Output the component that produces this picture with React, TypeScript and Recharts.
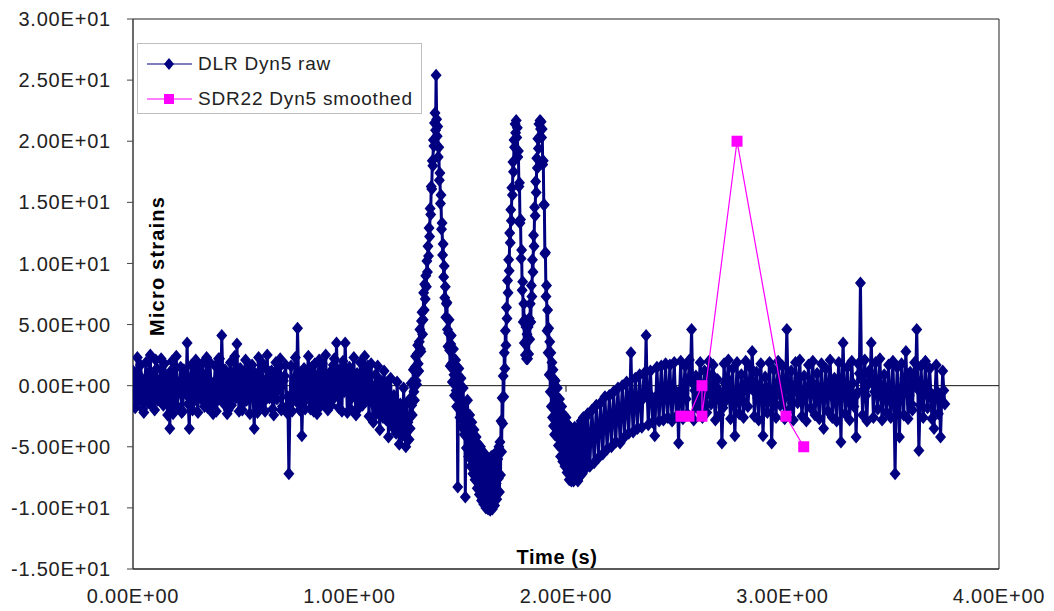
import React from 'react';
import { ScatterChart, Scatter, XAxis, YAxis, ReferenceLine, ReferenceArea, Legend, Label, Curve } from 'recharts';

// ---- axis ticks ----
const xTicks = [0, 1, 2, 3, 4];
const yTicks = [-15, -10, -5, 0, 5, 10, 15, 20, 25, 30];

// ---- DLR Dyn5 raw (time in s, micro strains), segment by segment ----
const seg1Start = 0.0;
const seg1Step = 0.005;
const seg1Values = [
  1.2, -0.5, -1.8, 0.9, 2.3, -1.3, -0.9, 1.7, 0.6, -1.9, -2.2, 0.4, 1.9, -0.8, -1.4, 1.1, 2.5, -1.6, -0.3, 0.8,
  -2.0, 2.1, 1.4, -1.2, -0.8, 0.5, 2.2, -0.4, -1.6, 1.8, 0.9, -1.0, -2.4, 0.7, -3.5, 1.2, 2.0, -2.3, -1.1, 1.5,
  2.4, -1.7, -0.6, 0.3, 1.5, -2.2, -2.1, 1.3, 0.8, -0.7, 3.5, -1.5, -3.5, 0.6, 1.7, -2.0, -1.3, 1.0, 2.1, -0.9,
  -2.2, 1.6, 0.4, -1.1, 1.8, -0.5, -1.7, 0.9, 2.3, -1.8, -0.9, 1.9, 0.3, -1.4, -2.3, 0.2, 1.6, -2.1, -1.2, 2.2,
  2.2, -0.8, 4.1, 0.6, -1.5, 1.3, 0.7, -2.3, -2.0, 0.9, 1.9, -1.6, -0.7, 1.1, 2.4, -1.0, 3.4, -0.2, -2.1, 1.4,
  1.3, -2.0, -1.4, 0.8, 2.1, -1.2, -0.5, 1.6, -2.3, 0.2, 1.7, -0.9, -3.5, 1.0, 0.9, -2.2, 2.3, -0.6, -1.8, 1.9,
  0.5, -1.3, -2.1, 1.4, 2.5, -0.3, -1.0, 0.6, 1.2, -1.9, -2.4, 0.8, 1.9, -1.1, -0.4, 1.5, 2.2, -2.0, -1.7, 0.4,
  0.8, 1.7, -2.2, -0.9, -7.2, -1.5, 1.6, -2.1, -1.1, 0.6, 2.3, -1.3, 4.7, 0.2, -2.0, 1.1, -4.1, -0.6, 1.4, -1.9,
  -0.8, 1.0, 2.4, -1.2, -1.9, 1.5, 0.6, -2.1, 1.8, -0.4, -2.3, 0.9, 2.1, -1.7, -0.6, 1.8, -1.5, 0.3, 2.5, -1.0,
  -2.0, 0.5, 1.1, -1.6, -1.2, 1.7, 2.2, -0.8, 3.5, 0.1, -1.8, 1.3, 0.4, -2.1, 2.0, -0.5, 3.5, 0.8, -2.2, 1.2,
  1.5, -1.9, -1.0, 0.9, 2.3, -0.7, -2.4, 1.0, 0.7, -1.8, 1.9, -0.6, -1.6, 1.2, 2.4, -1.3, -0.8, 1.6, -2.5, 0.2,
  1.8, -1.4, -3.0, -0.2, 0.9, -2.3, 1.6, -1.1, -3.6, 0.4, -0.5, -2.6, 1.2, -1.5, -2.8, 0.3, -4.2, -1.9, 0.6, -3.1,
  -3.4, -0.8, -1.2, -3.9, 0.3, -2.6, -4.8, -1.5, -2.2, -4.1, -0.2, -3.2, -5.0, -1.4, -3.0, -4.4,
];

const seg2Start = 1.28;
const seg2Step = 0.0025;
const seg2Values = [
  -3.5, -1.0, 0.2, -1.6, -2.4, 0.1, 1.3, -0.5, -1.2, 1.5, 2.4, 0.4,
  0.1, 2.6, 3.3, 1.8, 1.2, 3.6, 4.6, 3.0, 2.8, 5.3, 6.0, 4.2,
];

const seg3Start = 1.34;
const seg3Step = 0.0025;
const seg3Values = [
  5.4, 7.6, 6.2, 8.3, 7.1, 9.0, 8.1, 10.2, 9.3, 11.4,
  10.6, 12.9, 12.2, 14.5, 14.0, 16.3, 16.1, 18.4, 18.0, 20.1,
  19.6, 21.5, 22.3, 20.9, 25.4, 21.8, 20.4, 21.2, 18.7, 19.5,
  16.8, 17.4, 14.9, 15.6, 12.8, 13.3, 10.7, 11.6, 8.9, 9.8,
  7.2, 8.1, 5.6, 6.7,
];

const seg4Start = 1.45;
const seg4Step = 0.0025;
const seg4Values = [
  6.8, 4.6, 3.2, 4.3, 5.4, 2.9, 1.6, 3.4, 4.1, 1.8,
  0.3, 1.4, 3.0, 0.9, -0.8, 0.2, 2.1, -0.4, -1.7, -0.9,
  -8.3, -1.8, 1.4, -0.9, -2.6, -1.5, 0.6, -2.0, -3.4, -1.6,
  -0.2, -2.7, -4.0, -2.2, -9.1, -3.4, -5.1, -3.2, -1.2, -4.0,
  -5.8, -3.8, -2.4, -4.6, -6.6, -4.7, -3.0, -5.2, -7.2, -5.5,
  -3.6, -6.0, -7.7, -6.1, -4.2, -6.7, -8.4, -6.5, -4.8, -7.4,
  -8.9, -7.0, -5.0, -7.8, -9.4, -7.4, -5.4, -8.2, -9.7, -7.6,
  -5.6, -8.6, -10.0, -7.9, -5.9, -8.8, -10.1, -8.0, -6.0, -8.9,
  -10.2, -7.8, -5.8, -8.7, -10.1, -7.7, -5.7, -8.4, -9.8, -7.5,
  -5.5, -8.0, -9.3, -7.2, -6.0, -7.6,
];

const seg5Start = 1.69;
const seg5Step = 0.0025;
const seg5Values = [
  -5.0, -8.7, -4.6, -7.3, -2.9, -5.4, -1.0, -3.1, 0.8, -0.9,
  2.7, 1.4, 4.5, 3.3, 6.4, 5.5, 8.6, 7.6, 10.3, 9.4,
  12.5, 11.7, 14.4, 13.5, 16.2, 15.6, 18.3, 17.5, 20.1, 19.5,
  21.4, 20.7, 21.7, 20.3, 21.1, 18.7, 19.2, 16.3, 16.6, 13.3,
  13.6, 10.4, 11.1, 7.8, 8.5, 5.2, 6.7, 3.5, 5.4, 2.5,
  4.8, 2.2, 4.2, 2.2, 4.8, 2.6, 5.5, 3.8, 6.7, 5.2,
  8.2, 7.3, 10.3, 9.3, 12.3, 11.4, 14.6, 13.9, 16.7, 15.8,
  18.6, 17.8, 20.2, 19.4, 21.4, 20.3, 21.7, 21.0, 21.6, 20.3,
  21.0, 18.1, 18.4, 14.8, 14.8, 10.8, 10.9, 7.3, 8.2, 4.5,
  6.2, 2.7, 4.7, 0.9, 3.6, -0.5, 2.7, -1.7, 1.9, -2.6,
  1.3, -3.3, 0.5, -4.0,
];

const seg6Start = 1.95;
const seg6Step = 0.0025;
const seg6Values = [
  0.4, -2.0, -4.1, -1.8, -0.2, -3.0, -4.9, -2.7, -1.1, -3.6,
  -5.8, -3.9, -1.7, -4.2, -6.2, -4.0, -2.4, -4.8, -6.6, -4.4,
  -2.6, -5.2, -7.1, -5.0, -3.2, -5.6, -7.7, -5.3, -3.4, -6.0,
  -7.8, -5.4, -3.8, -5.9, -7.8, -5.7, -3.4, -6.1, -7.6, -5.3,
  -3.6, -5.9, -7.8, -5.5, -3.3, -5.6, -7.4, -5.1, -2.9, -5.3,
  -7.2, -4.9, -2.6, -5.0, -6.8, -4.6, -2.6, -4.8, -6.7, -4.4,
];

const seg7Start = 2.1;
const seg7Step = 0.005;
const seg7Values = [
  -2.3, -4.4, -6.6, -4.2, -2.0, -4.0, -6.3, -3.9, -1.6, -3.6, -5.9, -3.5, -1.4, -3.3, -5.6, -3.0, -0.9, -3.1, -5.2, -2.8,
  -0.8, -2.9, -5.0, -2.6, -0.5, -2.7, -4.6, -2.3, -0.2, -2.5, -4.7, -2.1, 0.0, -2.2, -4.2, -1.8, 0.3, -1.9, -3.9, -1.0,
  2.7, -1.5, -3.8, -1.6, 0.6, -1.4, -3.5, -1.2, 0.9, -1.3, -3.4, -0.9, 1.0, -0.8, 4.1, -0.6, -3.2, -1.0, 1.2, -0.9,
  -3.0, -1.6, -4.1, -1.0, 1.5, -0.7, -2.9, -0.6, 1.6, -1.1, -2.8, -0.4, 1.8, -0.9, -2.6, -0.3, 1.7, -1.0, -2.9, -0.2,
  1.9, -0.8, -2.5, -1.2, -4.7, -0.5, 2.0, -0.9, -2.7, 0.1, 1.6, -1.1, -2.3, 0.4, 2.1, 0.8, 4.6, 0.2, -2.8, -0.4,
  0.8, -1.4, -1.9, 0.3, 1.9, -0.9, -2.6, -0.2, 1.2, -1.6, -2.2, 0.5, 2.0, -0.7, -1.5, 0.9, 1.7, -1.3, -2.8, -0.1,
  0.5, -1.0, -2.4, -0.6, -4.7, -1.8, 1.8, 0.2, -1.2, 0.6, 2.1, -0.8, -2.7, -0.4, 1.4, -1.6, -4.1, -0.9, 1.9, -0.5,
  -2.3, -0.7, 0.9, -1.2, -2.6, 0.1, 2.0, 0.2, -1.7, -0.3, 1.5, 0.4, 2.8, 0.3, -2.5, -0.6, 1.1, -1.0, -2.8, 0.0,
  1.8, -0.9, -4.1, -1.3, 0.7, -0.8, -2.2, -0.2, 1.9, -0.6, -4.7, -1.5, 1.3, -0.9, -2.6, -0.1, 2.0, 0.4, -1.6, -0.5,
  1.6, -1.1, -2.7, 0.5, 4.6, 0.3, -2.0, -0.5, 1.2, -1.4, -2.8, -0.3, 1.9, 0.2, -1.4, 0.6, 2.1, -0.8, -2.5, -1.0,
  0.8, -0.6, -2.9, -0.4, 1.7, 0.0, -1.8, 0.3, 2.0, -0.7, -2.4, -0.9, 1.0, -1.2, -2.7, -0.2, 1.8, -0.5, -3.5, -0.8,
  1.4, -0.4, -2.1, 0.1, 2.1, -0.3, -2.6, -1.0, 0.6, -1.2, -2.9, 0.2, 1.9, -0.7, -4.6, 0.4, 3.5, -0.2, -2.3, -0.6,
  1.5, -1.3, -2.8, -0.5, 2.0, 0.2, -1.7, -0.9, -4.2, -0.6, 1.8, 1.0, 8.4, 0.5, -2.4, -0.3, 2.1, -0.8, -2.9, 0.1,
  1.2, 0.8, 3.5, 0.4, -2.6, -0.5, 1.9, -0.2, -1.9, 0.3, 2.2, -0.4, -2.8, -1.1, 0.9, -0.7, -2.2, -0.3, 1.7, -1.2,
  -2.6, -0.1, 2.0, -1.4, -7.2, -0.9, 1.5, -1.2, -4.2, -0.7, 1.8, -0.5, -2.4, 0.6, 2.8, -0.2, -2.7, -0.8, 1.1, -1.5,
  -2.0, 0.2, 1.9, 0.6, 4.6, -0.3, -5.3, -1.6, 1.6, -0.6, -2.6, -0.4, 2.0, 0.1, -1.8, -0.9, 1.4, -0.6, -2.7, -1.0,
  -3.5, -0.7, 1.7, -0.5, -2.3, -0.9, -4.2, -1.3, 1.2, -0.4, -1.5,
];

// ---- SDR22 Dyn5 smoothed ----
const smoothTimes = [2.531, 2.568, 2.628, 2.628, 2.79, 3.016, 3.098];
const smoothValues = [-2.5, -2.5, 0, -2.5, 20, -2.5, -5];

const rawSegments = [
  { start: seg1Start, step: seg1Step, values: seg1Values },
  { start: seg2Start, step: seg2Step, values: seg2Values },
  { start: seg3Start, step: seg3Step, values: seg3Values },
  { start: seg4Start, step: seg4Step, values: seg4Values },
  { start: seg5Start, step: seg5Step, values: seg5Values },
  { start: seg6Start, step: seg6Step, values: seg6Values },
  { start: seg7Start, step: seg7Step, values: seg7Values },
];

const rawData = rawSegments.flatMap((s) =>
  s.values.map((v, i) => ({ t: Number((s.start + i * s.step).toFixed(5)), v }))
);
const smoothData = smoothTimes.map((t, i) => ({ t, v: smoothValues[i] }));

const NAVY = '#000080';
const MAGENTA = '#FF00FF';
const FONT = '"Liberation Sans", Arial, sans-serif';

const fmtE = (n: number) => {
  const [m, e] = n.toExponential(2).split('e');
  const ex = parseInt(e, 10);
  return `${m}E${ex < 0 ? '-' : '+'}${String(Math.abs(ex)).padStart(2, '0')}`;
};

const Diamond = (props: any) => {
  const { cx, cy } = props;
  if (cx == null || cy == null) return null;
  return <path d={`M${cx},${cy - 6.5}L${cx + 5.5},${cy}L${cx},${cy + 6.5}L${cx - 5.5},${cy}Z`} fill={NAVY} />;
};

const Square = (props: any) => {
  const { cx, cy } = props;
  if (cx == null || cy == null) return null;
  return <rect x={cx - 5.5} y={cy - 5.5} width={11} height={11} fill={MAGENTA} />;
};

const rawLine = (p: any) => (
  <Curve points={p.points} type="linear" fill="none" stroke={NAVY} strokeWidth={3} strokeLinejoin="round" />
);
const smoothLine = (p: any) => (
  <Curve points={p.points} type="linear" fill="none" stroke={MAGENTA} strokeWidth={1.2} />
);

const YLabel = (props: any) => {
  const vb = props.viewBox || { x: 0, y: 0, width: 0, height: 0 };
  const x = vb.x + vb.width + 24;
  const y = vb.y + vb.height * 0.449;
  return (
    <text
      x={x}
      y={y}
      transform={`rotate(-90 ${x} ${y})`}
      textAnchor="middle"
      dominantBaseline="central"
      fontFamily={FONT}
      fontSize={20}
      fontWeight="bold"
      letterSpacing={1.2}
      fill="#000"
    >
      Micro strains
    </text>
  );
};

const legendItems = [
  { name: 'DLR Dyn5 raw', color: NAVY, marker: 'diamond' },
  { name: 'SDR22 Dyn5 smoothed', color: MAGENTA, marker: 'square' },
];

const LegendBox = () => (
  <div
    style={{
      border: '1px solid #bfbfbf',
      width: 285,
      height: 71,
      background: '#fff',
      boxSizing: 'border-box',
      paddingTop: 2,
      paddingLeft: 9,
      fontFamily: FONT,
    }}
  >
    {legendItems.map((it) => (
      <div key={it.name} style={{ display: 'flex', alignItems: 'center', height: 35 }}>
        <svg width={46} height={14} style={{ display: 'block' }}>
          <line x1={0} y1={7} x2={45} y2={7} stroke={it.color} strokeWidth={1.2} />
          {it.marker === 'diamond' ? (
            <path d="M22,1L27,7L22,13L17,7Z" fill={it.color} />
          ) : (
            <rect x={17} y={2} width={10} height={10} fill={it.color} />
          )}
        </svg>
        <span style={{ marginLeft: 5, fontSize: 19, letterSpacing: 0.8, color: '#222', whiteSpace: 'nowrap' }}>
          {it.name}
        </span>
      </div>
    ))}
  </div>
);

export default function App() {
  return (
    <div style={{ position: 'absolute', left: 0, top: 0, width: 1054, height: 611, background: '#fff' }}>
      <ScatterChart width={1054} height={611} margin={{ top: 19, right: 55, bottom: 12, left: 0 }}>
        <XAxis
          type="number"
          dataKey="t"
          domain={[0, 4]}
          ticks={xTicks}
          tickFormatter={fmtE}
          allowDataOverflow
          height={30}
          tickLine={false}
          tickSize={0}
          tickMargin={20}
          axisLine={{ stroke: '#222' }}
          tick={{ fill: '#222', fontSize: 20, fontFamily: FONT, letterSpacing: 0.8 }}
          label={{
            value: 'Time  (s)',
            position: 'top',
            offset: 5,
            dx: -9,
            fill: '#000',
            fontSize: 20,
            fontWeight: 'bold',
            fontFamily: FONT,
            letterSpacing: 0.6,
          }}
        />
        <YAxis
          type="number"
          dataKey="v"
          domain={[-15, 30]}
          ticks={yTicks}
          tickFormatter={fmtE}
          allowDataOverflow
          width={133}
          tickSize={6}
          tickMargin={16}
          tickLine={{ stroke: '#444' }}
          axisLine={{ stroke: '#444' }}
          tick={{ fill: '#222', fontSize: 20, fontFamily: FONT, letterSpacing: 0.8 }}
          label={<Label content={YLabel} />}
        />
        <ReferenceArea x1={0} x2={4} y1={-15} y2={30} fill="none" fillOpacity={0} stroke="#222" strokeWidth={1} />
        <ReferenceLine y={0} stroke="#111" strokeWidth={1} zIndex={50} />
        <ReferenceLine segment={[{ x: 1, y: 0 }, { x: 1, y: -0.5 }]} stroke="#111" zIndex={50} />
        <ReferenceLine segment={[{ x: 2, y: 0 }, { x: 2, y: -0.5 }]} stroke="#111" zIndex={50} />
        <ReferenceLine segment={[{ x: 3, y: 0 }, { x: 3, y: -0.5 }]} stroke="#111" zIndex={50} />
        <Legend
          layout="vertical"
          align="center"
          verticalAlign="middle"
          wrapperStyle={{ top: 43, left: 137, width: 'auto' }}
          content={() => <LegendBox />}
        />
        <Scatter
          name="DLR Dyn5 raw"
          data={rawData}
          fill={NAVY}
          line={rawLine}
          lineType="joint"
          shape={Diamond}
          isAnimationActive={false}
        />
        <Scatter
          name="SDR22 Dyn5 smoothed"
          data={smoothData}
          fill={MAGENTA}
          line={smoothLine}
          lineType="joint"
          shape={Square}
          isAnimationActive={false}
        />
      </ScatterChart>
    </div>
  );
}
